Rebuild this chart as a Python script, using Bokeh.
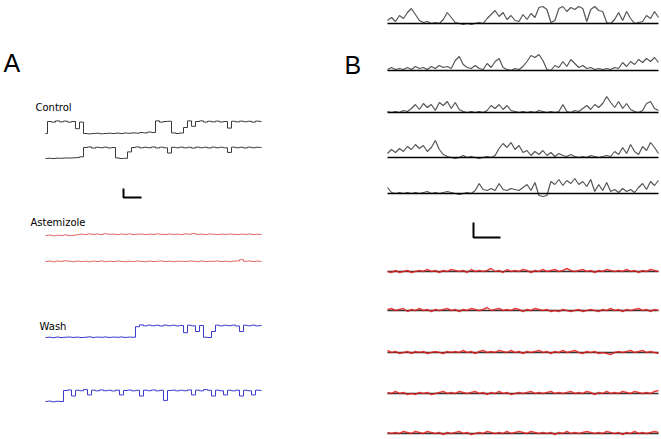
import numpy as np
from bokeh.plotting import figure
from bokeh.models import Range1d, Label
from bokeh.embed import file_html
from bokeh.resources import INLINE

# ---------------- DATA (relative current) ----------------
# Panel A: single-channel records, 0 = closed, 1 = open level
control_1 = [0, 1, .95, 1.05, .97, 1.03, .95, 1.0, .4, .95,
             0, -.03, 0, .02, -.02, 0, .02, 0, .03, 0,
             .04, .02, .05, .03, .08, .05, .12, .08, 1.05, .95,
             1.0, 1.02, .05, 0, .04, .5, 1.05, .6, 1.0, 1.05,
             .95, 1.02, .97, 1.03, .96, 1.0, .45, 1.02, .97, 1.03,
             .98, 1.02, .95, 1.03, 1.0]
control_2 = [0, .02, 0, .03, .02, .05, .04, .06, .08, .15,
             1.0, 1.05, .95, 1.02, .98, 1.03, .96, 1.0, .05, 0,
             .02, .6, 1.0, 1.05, .97, 1.02, .98, 1.05, .96, 1.03,
             .97, .5, 1.02, .98, 1.03, .97, 1.02, .95, 1.03, .98,
             1.02, .96, 1.03, .98, 1.02, .97, .55, 1.03, .98, 1.02,
             .96, 1.03, .98, 1.02, 1.0]
astemizole_1 = [-.08, -.05, -.1, -.06, -.08, -.04, -.09, -.07, -.02, .03,
                0, .05, .01, .04, 0, .06, .02, .03, 0, .04,
                .01, .05, 0, .02, .04, 0, .03, .01, .05, .02,
                0, .04, .01, .03, 0, .05, .02, .08, .01, .03,
                0, .04, .02, 0, .03, .01, .04, .02, 0, .03,
                .01, .04, 0, .02, 0]
astemizole_2 = [0, .03, -.02, .04, .01, .06, .02, -.01, .03, 0,
                .02, -.02, .03, 0, .04, -.01, .02, 0, .03, .01,
                -.02, .02, 0, .04, .01, -.01, .03, 0, .02, .04,
                0, .02, -.01, .03, .01, 0, .04, .02, -.01, .03,
                0, .02, .01, .04, 0, .02, -.01, .03, .05, .15,
                .02, .04, 0, .03, .01]
wash_1 = [0, .02, -.01, .03, 0, .02, .04, .01, .03, 0,
          .02, .05, .01, .03, .02, .04, .01, .03, .02, .04,
          .01, .03, .02, .9, 1.05, .97, 1.03, .98, 1.02, .96,
          1.03, .98, 1.02, .97, 1.0, .4, 1.02, .97, .5, 1.0,
          .02, 0, .5, 1.03, .97, 1.02, .98, 1.03, .96, .5,
          1.02, .98, 1.03, .97, 1.0]
wash_2 = [0, .03, -.02, .02, 0, 1.0, 1.05, .5, 1.02, .98,
          1.08, .6, 1.03, .97, 1.05, .98, 1.02, .96, 1.03, .6,
          1.0, 1.04, .97, 1.02, .5, 1.03, .98, 1.05, .97, 1.02,
          .1, 1.0, 1.03, .97, 1.02, .98, 1.05, .6, 1.03, .97,
          1.08, 1.02, .5, 1.03, .98, .6, 1.02, .97, 1.03, .5,
          1.02, .98, .6, 1.03, 1.0]

# Panel B: multichannel records (amplitude above the zero line)
ctrl_b = [
    [3, 6, 2, 8, 5, 11, 15, 9, 3, 1, 2, 0, 1, 0, 4, 11, 6, 1, 0, -1,
     0, -1, 0, 1, 0, 5, 9, 13, 7, 11, 4, 8, 3, 2, 9, 4, 10, 6, 16, 17,
     14, 1, 3, 15, 17, 12, 16, 14, 17, 15, 2, 14, 17, 13, 12, 1, 0, 4, 11, 3,
     12, 5, 0, 1, 2, 8, 5, 12, 6],
    [1, 3, 1, 2, 1, 3, 1, 4, 2, 3, 1, 4, 2, 5, 3, 4, 2, 10, 14, 6,
     3, 2, 5, 2, 1, 7, 3, 9, 12, 3, 1, 0, 2, 1, 4, 9, 15, 13, 16, 10,
     1, 0, 5, 3, 9, 4, 11, 7, 3, 5, 2, 3, 1, 2, 1, 2, 1, 3, 2, 8,
     4, 9, 6, 11, 8, 12, 9, 13, 8],
    [1, 0, 1, 0, 2, 1, 4, 8, 3, 9, 5, 8, 2, 10, 7, 11, 4, 10, 3, 1,
     0, 1, 0, 1, 0, 2, 7, 4, 8, 3, 7, 2, 1, 0, 1, 0, 1, 0, 2, 1,
     0, 1, 0, 1, 8, 1, 0, 2, 1, 4, 7, 3, 8, 5, 9, 16, 10, 5, 11, 4,
     9, 3, 1, 0, 2, 9, 11, 4, 2],
    [4, 8, 5, 9, 6, 11, 8, 13, 9, 12, 6, 10, 17, 8, 3, 1, 0, -1, 0, 2,
     0, 1, 0, -1, 0, 1, 0, 2, 9, 14, 10, 15, 8, 12, 5, 7, 2, 6, 3, 7,
     2, 5, 1, 4, 2, 1, 3, 1, 0, 1, 0, 2, 1, 0, 1, 2, 1, 6, 3, 10,
     4, 13, 6, 3, 11, 7, 15, 10, 4],
    [6, 1, 0, 1, 0, 1, 0, 1, 0, 1, 2, 0, 1, 0, 1, 2, 1, 0, -1, 0,
     1, 0, 3, 10, 4, 3, 5, 3, 10, 4, 3, 5, 4, 3, 6, 9, 3, 11, -2, -3,
     -2, 12, 9, 14, 8, 13, 10, 15, 9, 12, 7, 14, 2, 9, 3, 11, 2, 4, 1, 5,
     2, 4, 1, 6, 10, 4, 12, 8, 13],
]
astemizole_b = [
    [0, -1, 1, -1, 0, 1, -1, 0, 1, 0, 2, 0, 1, -1, 1, 0, 2, 1, 0, 1,
     -1, 2, 0, 1, 0, 1, 3, 0, 1, -1, 2, 0, 1, 0, 2, 1, -1, 1, 0, 2,
     0, 1, 2, 0, 1, 3, 1, 0, 1, 2, 0, 1, -1, 1, 0, 2, 1, 0, 1, 0,
     2, 0, 1, -1, 1, 0, 2, 1, 0],
    [1, 2, 0, 1, 2, -1, 1, 0, 2, 0, 1, -1, 1, 0, 1, 2, 0, 1, -1, 1,
     0, 2, 1, 0, 1, 3, 0, 1, 2, 0, 1, 0, 2, 1, -1, 1, 0, 2, 1, 0,
     1, -1, 0, -1, 1, 0, -1, 0, 1, -1, 0, 1, 0, -1, 1, 0, 2, 0, 1, -1,
     1, 0, 1, 2, 0, 1, -1, 1, 0],
    [2, 0, 1, -1, 0, 1, -1, 1, 0, 1, -1, 0, 1, 0, -1, 1, 0, 1, 0, 2,
     0, 1, -1, 1, 2, 0, 1, 0, 2, 1, 0, 2, 0, 1, -1, 1, 0, 1, 2, 0,
     1, -1, 1, 0, 2, 0, 1, 2, 0, -1, 1, 0, 1, -1, 0, -1, -2, 0, 1, 0,
     1, 2, 0, 1, 2, 0, 1, 0, -1],
    [1, 0, 2, 0, 1, -1, 0, -1, 1, 0, 1, -1, 0, 1, 2, 0, 1, 0, 2, 1,
     0, 1, 2, 0, 1, -1, 1, 0, 2, 0, 1, -1, 0, 1, 0, 1, 2, 0, 1, 0,
     1, 2, 0, 1, 0, 1, 2, 0, 1, 0, 2, 1, -1, 1, 0, 2, 0, 1, 0, 2,
     1, 0, 2, 1, 0, 1, 0, 2, 3],
    [1, 0, 1, 0, 2, 1, 0, 2, 1, 0, 2, 1, 0, 1, -1, 1, 0, 1, 2, 0,
     1, -1, 0, 1, 0, 2, 1, 0, 1, 0, 2, 0, 1, 2, 1, 0, 2, 1, 0, 1,
     0, 1, -1, 1, 0, 2, 0, 1, 0, 1, 2, 1, 0, 1, 0, 2, 1, 0, 1, -1,
     1, 0, 2, 0, 1, 0, 1, 2, 1],
]

labels_a = ["Control", "Astemizole", "Wash"]
panel_letters = ["A", "B"]

# ---------------- LAYOUT / STYLE ----------------
W, H = 661, 439
A_X = (45, 261)
B_X = (387, 658)
A_ROWS = [  # (data, baseline, px per unit, colour)
    (control_1, 133, 12, "#3a3a3a"),
    (control_2, 158, 11, "#3a3a3a"),
    (astemizole_1, 234, 12, "#e06868"),
    (astemizole_2, 261, 12, "#e06868"),
    (wash_1, 337, 12, "#3a3ad0"),
    (wash_2, 401, 11, "#3a3ad0"),
]
B_CTRL_BASE = [23, 70, 112, 157, 193]
B_AST_BASE = [271, 310, 352, 393, 433]

p = figure(width=W, height=H, x_range=Range1d(0, W), y_range=Range1d(H, 0),
           output_backend="svg", toolbar_location=None, min_border=0)
p.axis.visible = False
p.grid.visible = False
p.outline_line_color = None
p.background_fill_color = "white"
p.border_fill_color = "white"


def trace(vals, x0, x1, base, scale, color, width=1.0, alpha=1.0, step=False):
    v = np.asarray(vals, dtype=float)
    xs = np.linspace(x0, x1, len(v))
    ys = base - v * scale
    if step:
        p.step(xs, ys, mode="center", line_color=color, line_width=width, line_alpha=alpha)
    else:
        p.line(xs, ys, line_color=color, line_width=width, line_alpha=alpha)


for vals, base, sc, col in A_ROWS:
    trace(vals, A_X[0], A_X[1], base, sc, col, 1.0, step=True)

for vals, base in zip(ctrl_b, B_CTRL_BASE):
    trace(vals, B_X[0], B_X[1], base, 1.0, "#555555", 1.2)
    p.line([B_X[0], B_X[1]], [base, base], line_color="black", line_width=1.6)

for vals, base in zip(astemizole_b, B_AST_BASE):
    p.line([B_X[0], B_X[1]], [base, base], line_color="#333333", line_width=1.6)
    trace(vals, B_X[0], B_X[1], base, 1.0, "#e02020", 1.4, 0.85)

# scale bars
p.line([123, 123, 141], [188, 197, 197], line_color="black", line_width=2)
p.line([473, 473, 500], [222, 237, 237], line_color="black", line_width=2)

for txt, x, y in zip(panel_letters, [3, 344], [62, 64]):
    p.add_layout(Label(x=x, y=y, text=txt, text_font="Liberation Sans",
                       text_font_size="25px", text_baseline="alphabetic",
                       text_color="black"))
for txt, x, y in zip(labels_a, [35, 30, 39], [107, 222, 326]):
    p.add_layout(Label(x=x, y=y, text=txt, text_font="DejaVu Sans",
                       text_font_size="10px", text_baseline="alphabetic",
                       text_color="black"))

open("out.html", "w").write(file_html(p, INLINE))
